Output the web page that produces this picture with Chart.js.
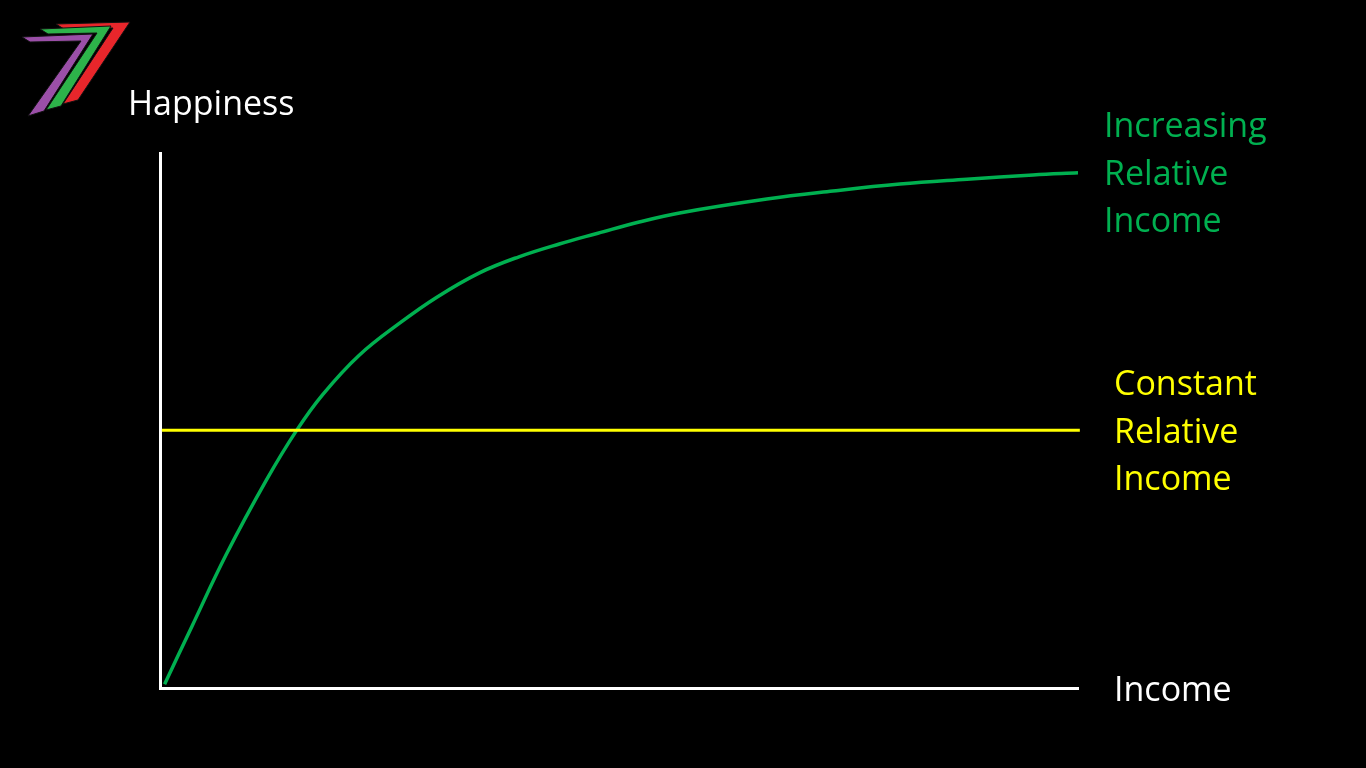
<!DOCTYPE html>
<html>
<head>
<meta charset="utf-8">
<title>Happiness vs Income</title>
<script src="https://cdn.jsdelivr.net/npm/chart.js@4/dist/chart.umd.min.js"></script>
<style>
  html, body { margin: 0; padding: 0; background: #000; overflow: hidden; }
  #wrap { width: 1366px; height: 768px; }
</style>
</head>
<body>
<div id="wrap"><canvas id="myChart" width="1366" height="768"></canvas></div>
<script>
// values (income 0-100, happiness 0-100)
const incomeX = [0.5, 3.5, 7.2, 11.6, 14.9, 17.7, 21.7, 26.1, 30.2, 34.8, 39.1, 43.5, 47.7, 52.2, 56.6, 66.1, 73.3, 80.6, 87.9, 95.1, 100];
const increasingHappiness = [0.7, 11.6, 24.9, 38.9, 48.2, 54.8, 62.2, 68.2, 73.1, 77.6, 80.6, 83.0, 85.0, 87.1, 88.8, 91.4, 92.9, 94.2, 95.1, 95.9, 96.3];
const constantX = [0.2, 100.2];
const constantHappiness = [48.2, 48.2];

const labelFont = '34px "Open Sans", sans-serif';

function toPoints(xs, ys) {
    return xs.map((x, i) => ({ x: x, y: ys[i] }));
}

// the "7" logo in the top left corner
function drawLogo(ctx) {
    const stripes = [
        { color: '#e8262b', pts: [[56,24],[130,22],[78,100],[63,104],[113,28],[64,29]] },
        { color: '#2db34a', pts: [[40,29],[111,26],[61,106],[46,110],[97,33],[48,34]] },
        { color: '#9b4fa8', pts: [[22,37],[93,34],[44,111],[28,116],[81,41],[30,42]] }
    ];
    stripes.forEach(s => {
        ctx.beginPath();
        s.pts.forEach((p, i) => i === 0 ? ctx.moveTo(p[0], p[1]) : ctx.lineTo(p[0], p[1]));
        ctx.closePath();
        ctx.fillStyle = s.color;
        ctx.fill();
        ctx.strokeStyle = '#111';
        ctx.lineWidth = 1;
        ctx.stroke();
    });
}

const textPlugin = {
    id: 'slideText',
    afterDraw(chart) {
        const ctx = chart.ctx;
        ctx.save();
        drawLogo(ctx);
        ctx.font = labelFont;
        ctx.textBaseline = 'alphabetic';
        ctx.textAlign = 'left';

        ctx.fillStyle = '#ffffff';
        ctx.fillText('Happiness', 128, 115);
        ctx.fillText('Income', 1114, 701);

        ctx.fillStyle = '#00b050';
        ['Increasing', 'Relative', 'Income'].forEach((t, i) => ctx.fillText(t, 1104, 137 + i * 47.5));

        ctx.fillStyle = '#ffff00';
        ['Constant', 'Relative', 'Income'].forEach((t, i) => ctx.fillText(t, 1114, 395 + i * 47.5));
        ctx.restore();
    }
};

const ctx = document.getElementById('myChart').getContext('2d');
new Chart(ctx, {
    type: 'line',
    data: {
        datasets: [
            {
                label: 'Constant Relative Income',
                data: toPoints(constantX, constantHappiness),
                borderColor: '#ffff00',
                borderWidth: 3,
                pointRadius: 0,
                clip: false
            },
            {
                label: 'Increasing Relative Income',
                data: toPoints(incomeX, increasingHappiness),
                borderColor: '#00b050',
                borderWidth: 3.5,
                pointRadius: 0,
                tension: 0.4,
                clip: false
            }
        ]
    },
    options: {
        responsive: false,
        animation: false,
        // ticks are hidden but the scales still keep a few px, so pad a bit less
        layout: { padding: { left: 152, right: 288, top: 153, bottom: 72 } },
        plugins: { legend: { display: false }, tooltip: { enabled: false } },
        scales: {
            x: {
                type: 'linear',
                min: 0,
                max: 100,
                grid: { display: false },
                ticks: { display: false },
                border: { display: true, color: '#ffffff', width: 3 }
            },
            y: {
                min: 0,
                max: 100,
                grid: { display: false },
                ticks: { display: false },
                border: { display: true, color: '#ffffff', width: 3 }
            }
        }
    },
    plugins: [textPlugin]
});
</script>
</body>
</html>
